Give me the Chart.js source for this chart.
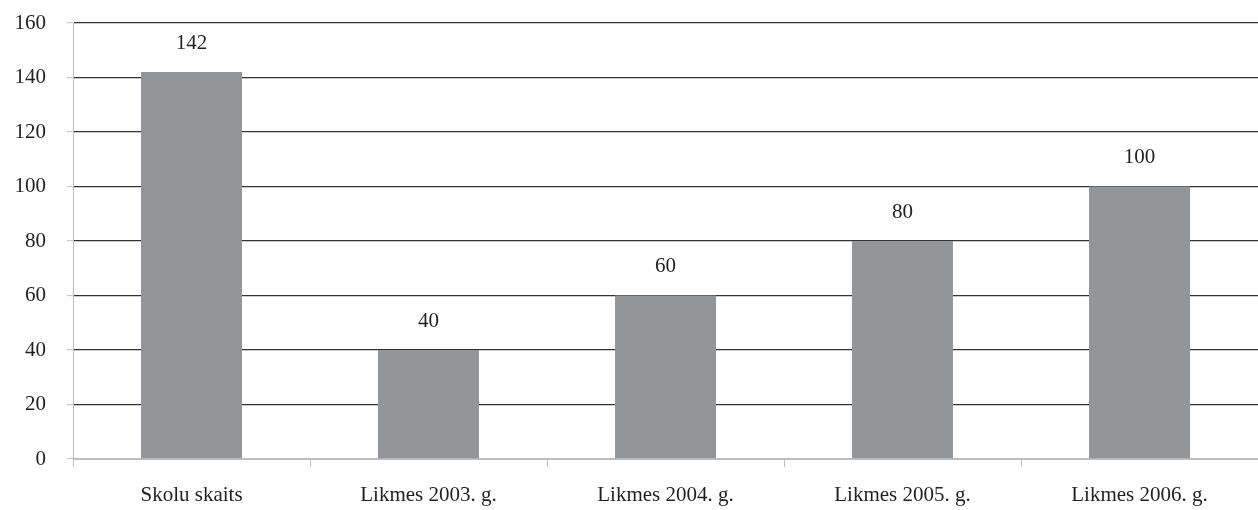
<!DOCTYPE html>
<html>
<head>
<meta charset="utf-8">
<script src="https://cdn.jsdelivr.net/npm/chart.js@4"></script>
<style>
html,body{margin:0;padding:0;background:#fff;}
#wrap{width:1258px;height:510px;}
</style>
</head>
<body>
<div id="wrap"><canvas id="c" width="1258" height="510"></canvas></div>
<script>
const categories = ["Skolu skaits", "Likmes 2003. g.", "Likmes 2004. g.", "Likmes 2005. g.", "Likmes 2006. g."];
const values = [142, 40, 60, 80, 100];
const yTicks = [0, 20, 40, 60, 80, 100, 120, 140, 160];

const FONT = "'Liberation Serif', 'DejaVu Serif', serif";
const TEXT = "#231f20";
const FS = 21;

const labelPlugin = {
  id: 'barLabels',
  afterDatasetsDraw(chart) {
    const ctx = chart.ctx;
    const meta = chart.getDatasetMeta(0);
    ctx.save();
    ctx.font = FS + "px " + FONT;
    ctx.fillStyle = TEXT;
    ctx.textAlign = 'center';
    ctx.textBaseline = 'middle';
    meta.data.forEach((bar, i) => {
      ctx.fillText(String(values[i]), bar.x, bar.y - 29);
    });
    ctx.restore();
  }
};

new Chart(document.getElementById('c'), {
  type: 'bar',
  data: {
    labels: categories,
    datasets: [{
      data: values,
      backgroundColor: '#939598',
      borderWidth: 0,
      barPercentage: 0.426,
      categoryPercentage: 1.0
    }]
  },
  options: {
    responsive: false,
    animation: false,
    devicePixelRatio: 1,
    layout: { padding: { left: 0, right: 0, top: 23, bottom: 0 } },
    plugins: { legend: { display: false }, tooltip: { enabled: false } },
    scales: {
      x: {
        offset: true,
        afterFit(axis) { axis.height = 51; },
        grid: { drawOnChartArea: false, tickLength: 8, tickColor: '#bcbec0', tickWidth: 1, offset: true },
        border: { color: '#bcbec0', width: 1 },
        ticks: { color: TEXT, font: { family: FONT, size: FS }, padding: 16 }
      },
      y: {
        min: 0, max: 160,
        afterBuildTicks(axis) { axis.ticks = yTicks.map(v => ({ value: v })); },
        afterFit(axis) { axis.width = 73; axis.paddingTop = 0; axis.paddingBottom = 0; },
        grid: {
          color: (c) => (c.tick && c.tick.value === 0) ? '#bcbec0' : '#333333',
          lineWidth: 1.3,
          tickLength: 6,
          tickColor: '#bcbec0',
          tickWidth: 1
        },
        border: { color: '#bcbec0', width: 1 },
        ticks: { color: TEXT, font: { family: FONT, size: FS }, padding: 21 }
      }
    }
  },
  plugins: [labelPlugin]
});
</script>
</body>
</html>
